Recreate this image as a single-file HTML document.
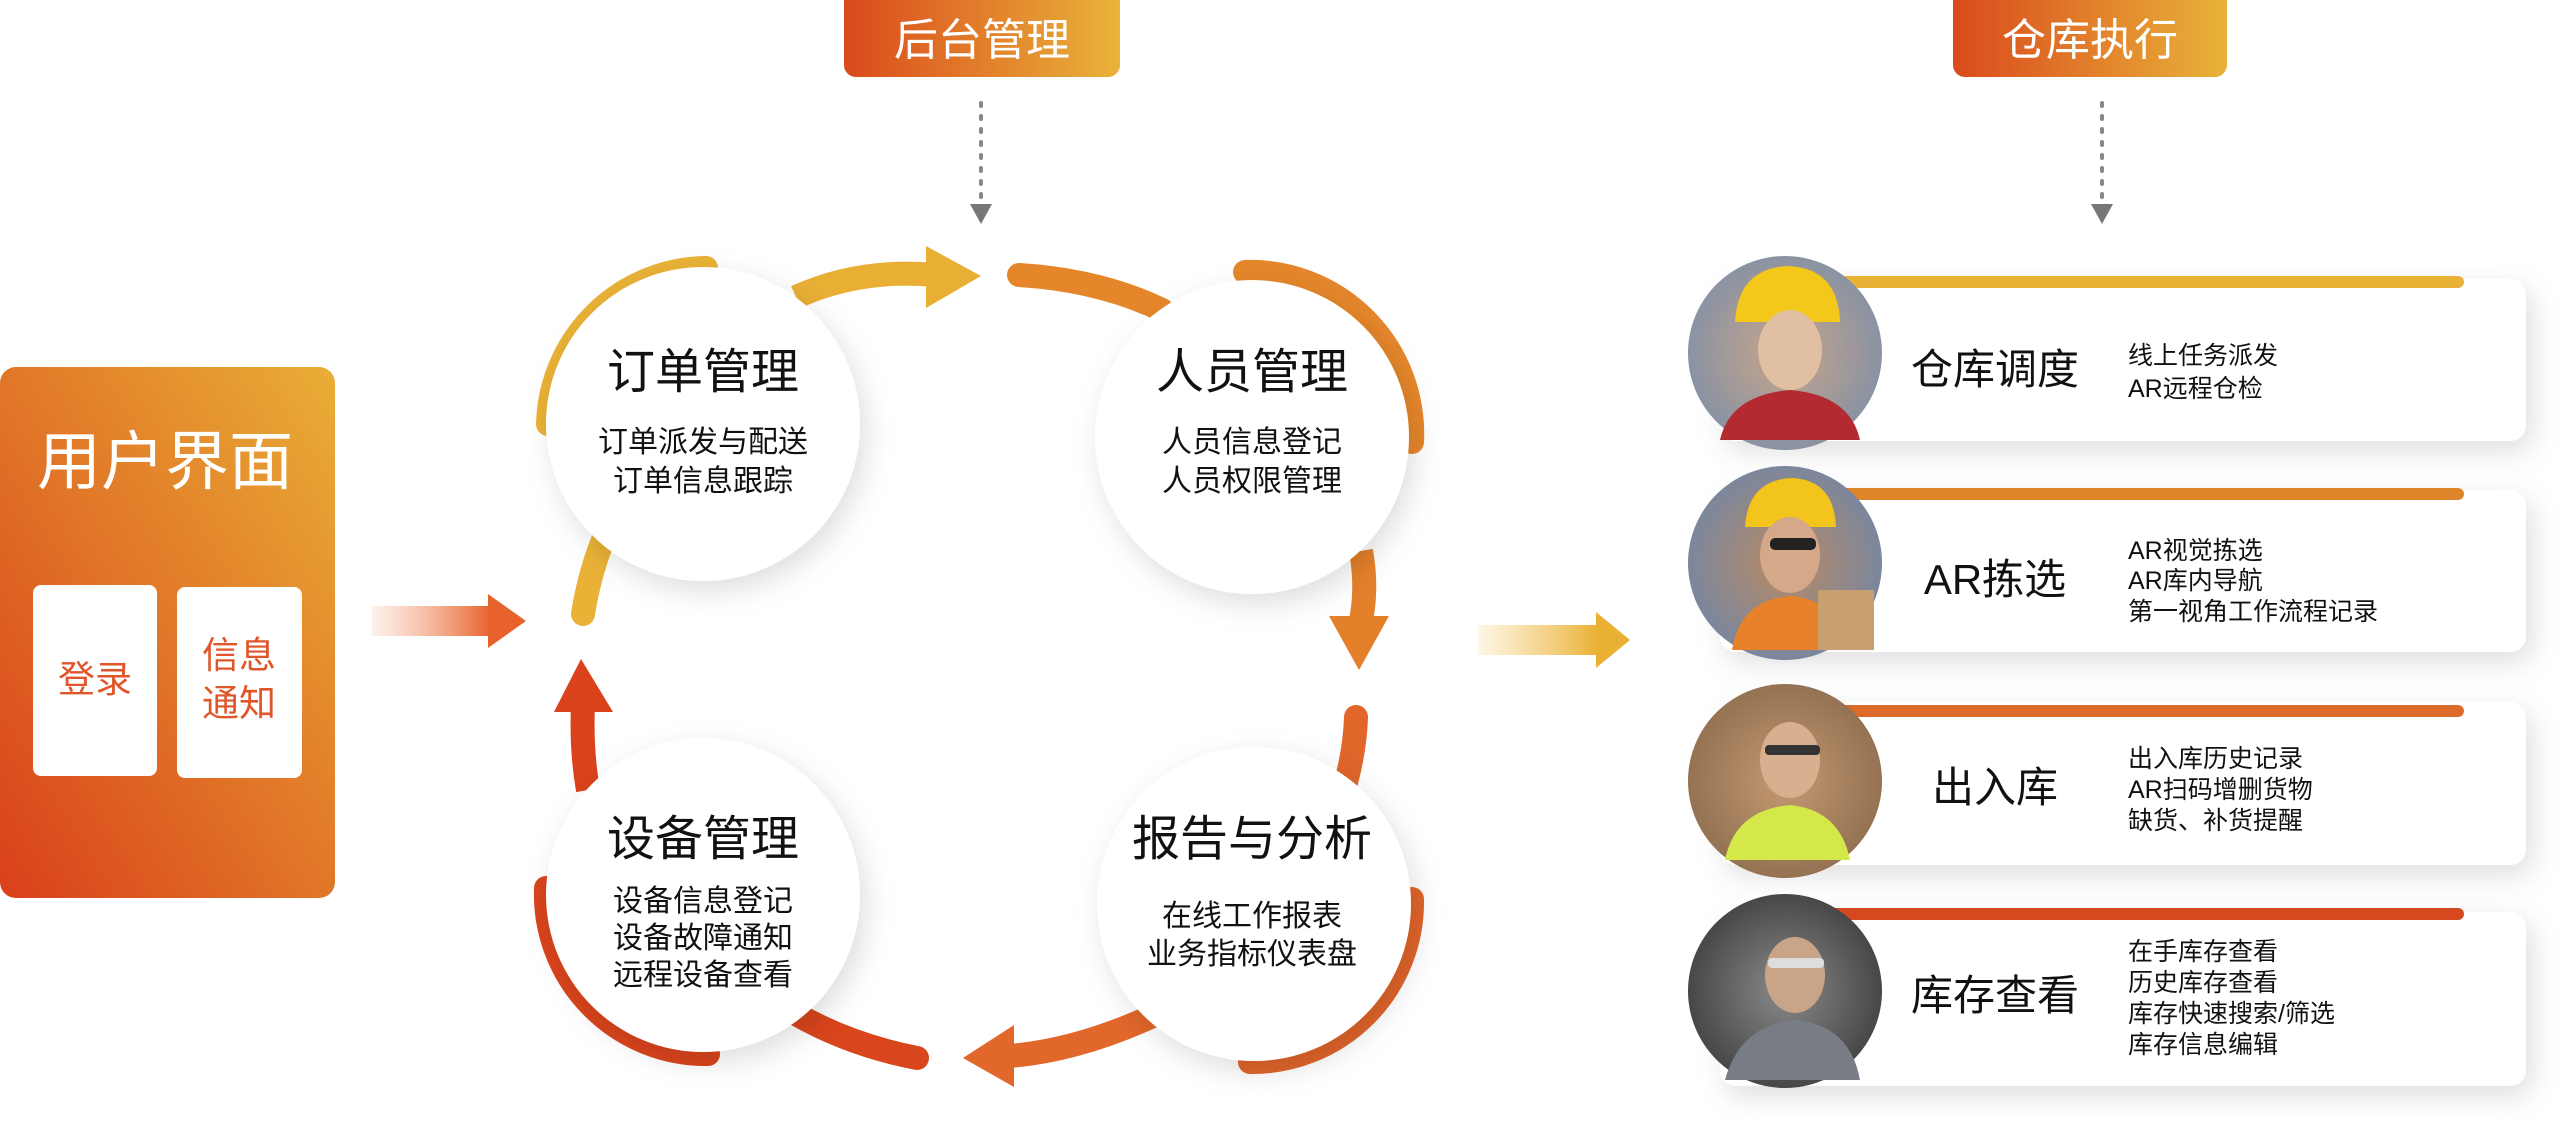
<!DOCTYPE html>
<html><head><meta charset="utf-8"><style>
html,body{margin:0;padding:0;background:#fff;}
body{width:2560px;height:1131px;overflow:hidden;}
svg text{font-family:"Liberation Sans","Noto Sans CJK SC",sans-serif;}
</style></head><body>
<svg width="2560" height="1131" viewBox="0 0 2560 1131" xmlns="http://www.w3.org/2000/svg">
<defs>
<linearGradient id="pan" x1="0" y1="1" x2="1" y2="0"><stop offset="0" stop-color="#d9401a"/><stop offset="1" stop-color="#e9ae36"/></linearGradient>
<linearGradient id="badge" x1="0" y1="0" x2="1" y2="0"><stop offset="0" stop-color="#da4a1c"/><stop offset="1" stop-color="#e9b33a"/></linearGradient>
<linearGradient id="fadeO" x1="0" y1="0" x2="1" y2="0"><stop offset="0" stop-color="#f3a27a" stop-opacity="0.15"/><stop offset="1" stop-color="#e8632c"/></linearGradient>
<linearGradient id="fadeY" x1="0" y1="0" x2="1" y2="0"><stop offset="0" stop-color="#f2c45a" stop-opacity="0.15"/><stop offset="1" stop-color="#eab033"/></linearGradient>
<filter id="sh" x="-30%" y="-30%" width="160%" height="160%"><feDropShadow dx="6" dy="10" stdDeviation="14" flood-color="#000" flood-opacity="0.13"/></filter>
<radialGradient id="p1" cx="0.5" cy="0.5" r="0.6"><stop offset="0" stop-color="#c9a58a"/><stop offset="1" stop-color="#7d8fa8"/></radialGradient>
<radialGradient id="p2" cx="0.5" cy="0.5" r="0.6"><stop offset="0" stop-color="#b98a64"/><stop offset="1" stop-color="#6f86a8"/></radialGradient>
<radialGradient id="p3" cx="0.5" cy="0.5" r="0.6"><stop offset="0" stop-color="#c59a72"/><stop offset="1" stop-color="#8a6a4c"/></radialGradient>
<radialGradient id="p4" cx="0.5" cy="0.5" r="0.6"><stop offset="0" stop-color="#8a8a8a"/><stop offset="1" stop-color="#3a3a3a"/></radialGradient>
</defs>

<rect x="0" y="367" width="335" height="531" rx="16" fill="url(#pan)"/>
<text x="165" y="484" font-size="64" fill="#fff" text-anchor="middle">用户界面</text>
<rect x="33" y="585" width="124" height="191" rx="8" fill="#fff"/>
<rect x="177" y="587" width="125" height="191" rx="8" fill="#fff"/>
<text x="95" y="692" font-size="37" fill="#e0552a" text-anchor="middle">登录</text>
<text x="239" y="668" font-size="37" fill="#e0552a" text-anchor="middle">信息</text>
<text x="239" y="716" font-size="37" fill="#e0552a" text-anchor="middle">通知</text>

<rect x="372" y="606" width="118" height="30" fill="url(#fadeO)"/>
<polygon points="488,594 526,621 488,648" fill="#e8632c"/>

<path d="M844 0 H1120 V65 a12 12 0 0 1 -12 12 H856 a12 12 0 0 1 -12 -12 Z" fill="url(#badge)"/>
<text x="982" y="55" font-size="44" fill="#fff" text-anchor="middle">后台管理</text>
<path d="M1953 0 H2227 V65 a12 12 0 0 1 -12 12 H1965 a12 12 0 0 1 -12 -12 Z" fill="url(#badge)"/>
<text x="2090" y="55" font-size="44" fill="#fff" text-anchor="middle">仓库执行</text>
<line x1="981" y1="103" x2="981" y2="198" stroke="#888" stroke-width="4" stroke-dasharray="3,10" stroke-linecap="round"/>
<polygon points="970,204 992,204 981,224" fill="#777"/>
<line x1="2102" y1="103" x2="2102" y2="198" stroke="#888" stroke-width="4" stroke-dasharray="3,10" stroke-linecap="round"/>
<polygon points="2091,204 2113,204 2102,224" fill="#777"/>

<g fill="none" stroke-width="24" stroke-linecap="round">
<path d="M706 268 A160 160 0 0 0 548 424" stroke="#e9b136"/>
<path d="M583 614 Q590 570 606 533" stroke="#e9b136"/>
<path d="M796 297 Q860 268 935 275" stroke="#e9af35" stroke-linecap="butt"/>
<path d="M1019 275 Q1100 280 1162 310" stroke="#e5862b"/>
<path d="M1245 272 A162 162 0 0 1 1412 442" stroke="#e5862b"/>
<path d="M1361 551 Q1368 590 1360 625" stroke="#e4802a" stroke-linecap="butt"/>
<path d="M1356 717 Q1355 750 1345 786" stroke="#e0662a"/>
<path d="M1412 899 A160 160 0 0 1 1250 1062" stroke="#e0642a"/>
<path d="M1157 1014 Q1080 1050 1010 1056" stroke="#e2672b" stroke-linecap="butt"/>
<path d="M917 1058 Q850 1045 796 1014" stroke="#d9451c"/>
<path d="M546 888 A160 160 0 0 0 708 1054" stroke="#d9441c"/>
<path d="M588 790 Q581 750 583 705" stroke="#d9421b" stroke-linecap="butt"/>
</g>
<polygon points="926,246 981,276 926,308" fill="#e9af35"/>
<polygon points="1329,616 1389,616 1359,670" fill="#e4802a"/>
<polygon points="1014,1025 963,1058 1014,1087" fill="#e2672b"/>
<polygon points="554,712 613,712 581,659" fill="#d9421b"/>

<g fill="#fff" filter="url(#sh)">
<circle cx="703" cy="424" r="157"/>
<circle cx="1252" cy="437" r="157"/>
<circle cx="703" cy="895" r="157"/>
<circle cx="1254" cy="904" r="157"/>
</g>
<g text-anchor="middle" fill="#111">
<text x="703" y="388" font-size="48">订单管理</text>
<text x="703" y="452" font-size="30">订单派发与配送</text>
<text x="703" y="491" font-size="30">订单信息跟踪</text>
<text x="1252" y="388" font-size="48">人员管理</text>
<text x="1252" y="452" font-size="30">人员信息登记</text>
<text x="1252" y="491" font-size="30">人员权限管理</text>
<text x="703" y="855" font-size="48">设备管理</text>
<text x="703" y="911" font-size="30">设备信息登记</text>
<text x="703" y="948" font-size="30">设备故障通知</text>
<text x="703" y="985" font-size="30">远程设备查看</text>
<text x="1252" y="855" font-size="48">报告与分析</text>
<text x="1252" y="926" font-size="30">在线工作报表</text>
<text x="1252" y="964" font-size="30">业务指标仪表盘</text>
</g>

<rect x="1478" y="625" width="120" height="30" fill="url(#fadeY)"/>
<polygon points="1596,612 1630,640 1596,668" fill="#eab033"/>

<g filter="url(#sh)" fill="#fff">
<rect x="1720" y="279" width="806" height="162" rx="16"/>
<rect x="1720" y="490" width="806" height="162" rx="16"/>
<rect x="1720" y="702" width="806" height="163" rx="16"/>
<rect x="1720" y="912" width="806" height="174" rx="16"/>
</g>
<g stroke-width="12" stroke-linecap="round">
<line x1="1812" y1="282" x2="2458" y2="282" stroke="#e9b136"/>
<line x1="1812" y1="494" x2="2458" y2="494" stroke="#e0862a"/>
<line x1="1812" y1="711" x2="2458" y2="711" stroke="#dc6a2a"/>
<line x1="1812" y1="914" x2="2458" y2="914" stroke="#d6481e"/>
</g>
<circle cx="1785" cy="353" r="97" fill="url(#p1)"/>
<path d="M1735 322 Q1738 268 1788 266 Q1838 268 1840 322 Z" fill="#f3c81a"/>
<ellipse cx="1790" cy="350" rx="32" ry="40" fill="#e1bfa3"/>
<path d="M1720 440 Q1730 395 1790 390 Q1850 395 1860 440 Z" fill="#b32a30"/>
<circle cx="1785" cy="563" r="97" fill="url(#p2)"/>
<path d="M1745 527 Q1748 480 1792 478 Q1834 480 1836 527 Z" fill="#f2c41c"/>
<ellipse cx="1790" cy="555" rx="30" ry="38" fill="#d4a888"/>
<rect x="1770" y="538" width="46" height="12" rx="5" fill="#222"/>
<path d="M1732 650 Q1740 600 1790 596 Q1840 600 1845 650 Z" fill="#e8822a"/>
<rect x="1818" y="590" width="56" height="60" fill="#c8a070"/>
<circle cx="1785" cy="781" r="97" fill="url(#p3)"/>
<ellipse cx="1790" cy="760" rx="30" ry="38" fill="#d8b090"/>
<rect x="1765" y="745" width="55" height="10" rx="4" fill="#333"/>
<path d="M1725 860 Q1735 810 1790 805 Q1840 810 1850 860 Z" fill="#d4e84a"/>
<circle cx="1785" cy="991" r="97" fill="url(#p4)"/>
<ellipse cx="1795" cy="975" rx="30" ry="38" fill="#c8a488"/>
<rect x="1768" y="958" width="56" height="10" rx="4" fill="#ddd"/>
<path d="M1725 1080 Q1740 1025 1795 1020 Q1850 1025 1860 1080 Z" fill="#777c85"/>

<g fill="#111">
<text x="1995" y="384" font-size="42" text-anchor="middle">仓库调度</text>
<text x="2128" y="364" font-size="25">线上任务派发</text>
<text x="2128" y="397" font-size="25">AR远程仓检</text>
<text x="1995" y="594" font-size="42" text-anchor="middle">AR拣选</text>
<text x="2128" y="559" font-size="25">AR视觉拣选</text>
<text x="2128" y="589" font-size="25">AR库内导航</text>
<text x="2128" y="620" font-size="25">第一视角工作流程记录</text>
<text x="1995" y="802" font-size="42" text-anchor="middle">出入库</text>
<text x="2128" y="767" font-size="25">出入库历史记录</text>
<text x="2128" y="798" font-size="25">AR扫码增删货物</text>
<text x="2128" y="829" font-size="25">缺货、补货提醒</text>
<text x="1995" y="1010" font-size="42" text-anchor="middle">库存查看</text>
<text x="2128" y="960" font-size="25">在手库存查看</text>
<text x="2128" y="991" font-size="25">历史库存查看</text>
<text x="2128" y="1022" font-size="25">库存快速搜索/筛选</text>
<text x="2128" y="1053" font-size="25">库存信息编辑</text>
</g>
</svg>
</body></html>
